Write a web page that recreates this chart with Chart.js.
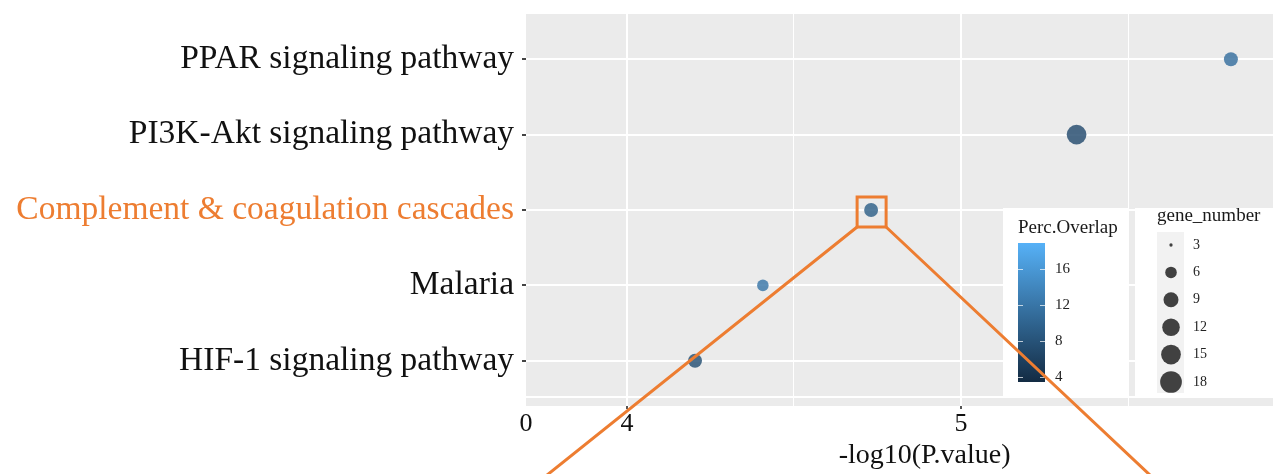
<!DOCTYPE html>
<html>
<head>
<meta charset="utf-8">
<script src="https://cdn.jsdelivr.net/npm/chart.js@4"></script>
<style>
  html, body { margin: 0; padding: 0; background: #ffffff; overflow: hidden; }
  #wrap { width: 1273px; height: 474px; position: relative; overflow: hidden; }
  #c { position: absolute; left: 0; top: 0; }
</style>
</head>
<body>
<div id="wrap"><canvas id="c" width="1333" height="474"></canvas></div>
<script>
// Enriched pathways, listed bottom to top
const pathways = [
  'HIF-1 signaling pathway',
  'Malaria',
  'Complement & coagulation cascades',
  'PI3K-Akt signaling pathway',
  'PPAR signaling pathway'
];
const negLogP     = [4.204, 4.407, 4.731, 5.346, 5.808];
const geneNumber  = [8, 6, 8, 15, 8];
const percOverlap = [7.6, 12.0, 9.4, 7.1, 11.2];
const highlighted = 'Complement & coagulation cascades';

// Axis and legend scales
const xMin = 3.698, xMax = 6.084;
const xGridValues = [4, 4.5, 5, 5.5, 6];
const overlapRange = [3.44, 18.9];
const overlapBreaks = [4, 8, 12, 16];
const geneRange = [3, 18];
const geneBreaks = [3, 6, 9, 12, 15, 18];

const SERIF = '"Liberation Serif", "DejaVu Serif", serif';
const ORANGE = '#ED7D31';
const PANEL = '#EBEBEB';
const LOW = [19, 43, 67], HIGH = [86, 177, 247];

function overlapColor(v, alpha) {
  const t = Math.max(0, Math.min(1, (v - overlapRange[0]) / (overlapRange[1] - overlapRange[0])));
  const c = LOW.map((l, i) => Math.round(l + (HIGH[i] - l) * t));
  return `rgba(${c[0]},${c[1]},${c[2]},${alpha})`;
}
function geneRadius(g) {
  const f = Math.max(0, g - geneRange[0]) / (geneRange[1] - geneRange[0]);
  return (3.3 + 18.4 * Math.sqrt(f)) / 2;
}

const hiIndex = pathways.indexOf(highlighted);

const panelPlugin = {
  id: 'panel',
  beforeDraw(chart) {
    const { ctx, chartArea: a } = chart;
    ctx.save();
    ctx.fillStyle = '#ffffff';
    ctx.fillRect(0, 0, chart.width, chart.height);
    ctx.fillStyle = PANEL;
    ctx.fillRect(a.left, a.top, a.right - a.left, a.bottom - a.top);
    ctx.strokeStyle = '#ffffff';
    ctx.lineWidth = 2;
    ctx.beginPath();
    ctx.moveTo(a.left, a.bottom - 9);
    ctx.lineTo(a.right, a.bottom - 9);
    ctx.stroke();
    ctx.restore();
  },
  afterDatasetsDraw(chart) {
    const { ctx } = chart;
    ctx.save();
    // legend backgrounds
    ctx.fillStyle = '#ffffff';
    ctx.fillRect(1003, 208, 125, 188);
    ctx.fillRect(1135, 208, 200, 188);

    // Perc.Overlap colour bar
    ctx.fillStyle = '#1a1a1a';
    ctx.font = '19px ' + SERIF;
    ctx.textBaseline = 'middle';
    ctx.textAlign = 'left';
    ctx.fillText('Perc.Overlap', 1018, 228);
    const barTop = 243, barBot = 382, barL = 1018, barR = 1045;
    const g = ctx.createLinearGradient(0, barBot, 0, barTop);
    g.addColorStop(0, overlapColor(overlapRange[0], 1));
    g.addColorStop(1, overlapColor(overlapRange[1], 1));
    ctx.fillStyle = g;
    ctx.fillRect(barL, barTop, barR - barL, barBot - barTop);
    const yOf = v => barBot - (v - overlapRange[0]) / (overlapRange[1] - overlapRange[0]) * (barBot - barTop);
    ctx.font = '15px ' + SERIF;
    overlapBreaks.forEach(v => {
      const y = Math.round(yOf(v)) + 0.5;
      ctx.strokeStyle = 'rgba(255,255,255,0.7)';
      ctx.lineWidth = 1;
      ctx.beginPath();
      ctx.moveTo(barL, y); ctx.lineTo(barL + 5, y);
      ctx.moveTo(barR - 5, y); ctx.lineTo(barR, y);
      ctx.stroke();
      ctx.fillStyle = '#222';
      ctx.fillText(String(v), 1055, y);
    });

    // gene_number size keys
    ctx.fillStyle = '#1a1a1a';
    ctx.font = '19px ' + SERIF;
    ctx.fillText('gene_number', 1157, 216);
    ctx.fillStyle = '#F2F2F2';
    ctx.fillRect(1157, 232, 27, 161);
    ctx.font = '14px ' + SERIF;
    geneBreaks.forEach((b, i) => {
      const y = 245 + i * 27.4;
      ctx.fillStyle = 'rgba(20,20,20,0.8)';
      ctx.beginPath();
      ctx.arc(1171, y, geneRadius(b), 0, Math.PI * 2);
      ctx.fill();
      ctx.fillStyle = '#222';
      ctx.fillText(String(b), 1193, y);
    });
    ctx.restore();
  },
  afterDraw(chart) {
    // callout around the highlighted pathway
    const { ctx } = chart;
    const xs = chart.scales.x, ys = chart.scales.y;
    const px = xs.getPixelForValue(negLogP[hiIndex]);
    const py = ys.getPixelForValue(hiIndex + 1);
    const L = px - 14, R = px + 15, T = py - 13, B = py + 17;
    ctx.save();
    ctx.strokeStyle = ORANGE;
    ctx.lineWidth = 3;
    ctx.strokeRect(L, T, R - L, B - T);
    const H = chart.height + 10;
    ctx.beginPath();
    ctx.moveTo(L, B);
    ctx.lineTo(L - (H - B) / 0.80, H);
    ctx.moveTo(R, B);
    ctx.lineTo(R + (H - B) / 0.94, H);
    ctx.stroke();
    ctx.restore();
  }
};

new Chart(document.getElementById('c'), {
  type: 'bubble',
  data: {
    datasets: [{
      data: pathways.map((p, i) => ({ x: negLogP[i], y: i + 1, r: geneRadius(geneNumber[i]) })),
      backgroundColor: percOverlap.map(v => overlapColor(v, 0.82)),
      borderWidth: 0,
      hoverRadius: 0
    }]
  },
  options: {
    responsive: false,
    animation: false,
    events: [],
    layout: { padding: { top: 14, right: 0, left: 0, bottom: 0 } },
    plugins: { legend: { display: false }, tooltip: { enabled: false } },
    scales: {
      x: {
        type: 'linear',
        min: xMin,
        max: xMax,
        afterBuildTicks: s => { s.ticks = [xMin, ...xGridValues].map(v => ({ value: v })); },
        afterFit: s => { s.height = 68; s.paddingLeft = 0; s.paddingRight = 0; },
        border: { display: false },
        grid: {
          color: c => (c.tick && c.tick.value === xMin) ? 'rgba(0,0,0,0)' : '#ffffff',
          lineWidth: c => (c.tick && Number.isInteger(c.tick.value)) ? 2 : 1,
          tickColor: c => (c.tick && Number.isInteger(c.tick.value) && c.tick.value !== xMin) ? '#555' : 'rgba(0,0,0,0)',
          tickLength: 3
        },
        ticks: {
          autoSkip: false,
          maxRotation: 0,
          padding: 0,
          color: '#111',
          font: { family: SERIF, size: 26 },
          callback: v => v === xMin ? '0' : (Number.isInteger(v) ? String(v) : '')
        },
        title: {
          display: true,
          text: '-log10(P.value)',
          color: '#111',
          font: { family: SERIF, size: 28 },
          padding: { top: 0, bottom: 2 }
        }
      },
      y: {
        type: 'linear',
        min: 0.4,
        max: 5.6,
        afterBuildTicks: s => { s.ticks = pathways.map((p, i) => ({ value: i + 1 })); },
        afterFit: s => { s.width = 526; s.paddingTop = 0; s.paddingBottom = 0; },
        border: { display: false },
        grid: { color: '#ffffff', lineWidth: 2, tickColor: '#444', tickLength: 4 },
        ticks: {
          padding: 8,
          color: c => c.tick && c.tick.value === hiIndex + 1 ? ORANGE : '#111',
          font: { family: SERIF, size: 33.5 },
          callback: v => pathways[v - 1]
        }
      }
    }
  },
  plugins: [panelPlugin]
});
</script>
</body>
</html>
